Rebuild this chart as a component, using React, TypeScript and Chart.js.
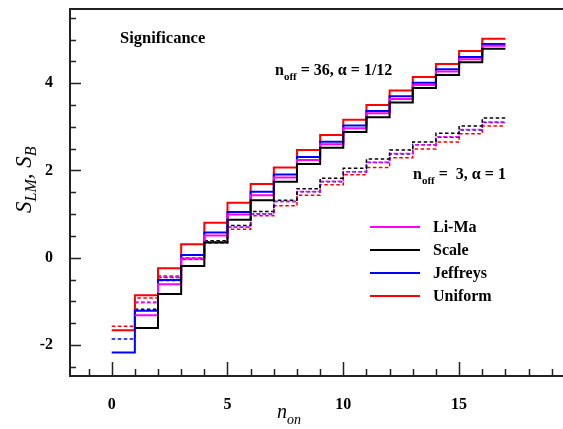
import React, { useEffect, useRef } from 'react';
import { Chart, registerables } from 'chart.js';

Chart.register(...registerables);

// n_on values (segment starts; last entry closes final step)
const nOn = [0, 1, 2, 3, 4, 5, 6, 7, 8, 9, 10, 11, 12, 13, 14, 15, 16, 17];

// n_off = 36, alpha = 1/12 (solid lines)
const liMa36 = [null, -1.32, -0.61, -0.02, 0.51, 0.99, 1.43, 1.84, 2.24, 2.6, 2.97, 3.31, 3.64, 3.96, 4.27, 4.55, 4.86];
const scale36 = [null, -1.61, -0.83, -0.19, 0.35, 0.87, 1.32, 1.74, 2.15, 2.52, 2.88, 3.22, 3.56, 3.89, 4.19, 4.48, 4.79];
const jeffreys36 = [-2.17, -1.215, -0.51, 0.06, 0.58, 1.05, 1.51, 1.91, 2.31, 2.66, 3.03, 3.36, 3.7, 4.01, 4.32, 4.6, 4.9];
const uniform36 = [-1.66, -0.86, -0.24, 0.31, 0.8, 1.26, 1.69, 2.07, 2.47, 2.81, 3.16, 3.5, 3.83, 4.14, 4.44, 4.74, 5.02];

// n_off = 3, alpha = 1 (dashed lines)
const liMa3 = [null, -1.03, -0.44, -0.02, 0.36, 0.7, 1.01, 1.29, 1.52, 1.75, 1.97, 2.19, 2.39, 2.59, 2.77, 2.94, 3.11];
const scale3 = [null, -1.18, -0.52, -0.01, 0.39, 0.74, 1.06, 1.32, 1.58, 1.82, 2.05, 2.26, 2.47, 2.65, 2.85, 3.02, 3.2];
const jeffreys3 = [-1.86, -1.02, -0.45, -0.03, 0.36, 0.7, 1.0, 1.29, 1.51, 1.74, 1.97, 2.18, 2.38, 2.59, 2.76, 2.93, 3.1];
const uniform3 = [-1.57, -0.92, -0.42, -0.04, 0.34, 0.65, 0.96, 1.19, 1.43, 1.67, 1.9, 2.07, 2.29, 2.49, 2.65, 2.84, 3.02];

const xTickValues = [0, 5, 10, 15];
const yTickValues = [-2, 0, 2, 4];
const seriesNames = ['Li-Ma', 'Scale', 'Jeffreys', 'Uniform'];

const COLORS: Record<string, string> = {
  'Li-Ma': '#ff00ff',
  Scale: '#000000',
  Jeffreys: '#0000ff',
  Uniform: '#ff0000',
};

const SERIF = '"Liberation Serif", "Times New Roman", serif';

function steps(vals: (number | null)[]) {
  const pts = vals.map((v, i) => ({ x: nOn[i], y: v }));
  pts.push({ x: nOn[vals.length], y: vals[vals.length - 1] });
  return pts;
}

function drawParts(ctx: CanvasRenderingContext2D, x: number, y: number, parts: [string, string, number][]) {
  let cx = x;
  for (const [txt, font, dy] of parts) {
    ctx.font = font;
    ctx.fillText(txt, cx, y + dy);
    cx += ctx.measureText(txt).width;
  }
}

const decorPlugin = {
  id: 'decor',
  afterDraw(chart: any) {
    const ctx: CanvasRenderingContext2D = chart.ctx;
    const { left, top, bottom } = chart.chartArea;
    const xs = chart.scales.x;
    const ys = chart.scales.y;
    const W = chart.width;
    ctx.save();
    // frame
    ctx.strokeStyle = '#222';
    ctx.lineWidth = 2;
    ctx.beginPath();
    ctx.moveTo(W, top);
    ctx.lineTo(left, top);
    ctx.lineTo(left, bottom);
    ctx.lineTo(W, bottom);
    ctx.stroke();
    // ticks
    ctx.lineWidth = 1.5;
    ctx.beginPath();
    for (let v = Math.ceil(xs.min); v <= xs.max; v++) {
      const px = Math.round(xs.getPixelForValue(v)) + 0.5;
      const len = v % 5 === 0 ? 14 : 7;
      ctx.moveTo(px, bottom);
      ctx.lineTo(px, bottom - len);
    }
    for (let k = Math.ceil(ys.min * 2); k <= Math.floor(ys.max * 2); k++) {
      const v = k / 2;
      const py = Math.round(ys.getPixelForValue(v)) + 0.5;
      const len = v % 2 === 0 ? 11 : 6;
      ctx.moveTo(left, py);
      ctx.lineTo(left + len, py);
    }
    ctx.stroke();

    ctx.fillStyle = '#000';
    ctx.textBaseline = 'alphabetic';
    ctx.textAlign = 'left';
    // annotations
    drawParts(ctx, 120, 43, [['Significance', `bold 16.5px ${SERIF}`, 0]]);
    drawParts(ctx, 275, 75, [
      ['n', `bold 16px ${SERIF}`, 0],
      ['off', `bold 11px ${SERIF}`, 5],
      [' = 36, \u03b1 = 1/12', `bold 16px ${SERIF}`, 0],
    ]);
    drawParts(ctx, 413, 179, [
      ['n', `bold 16px ${SERIF}`, 0],
      ['off', `bold 11px ${SERIF}`, 5],
      [' =  3, \u03b1 = 1', `bold 16px ${SERIF}`, 0],
    ]);

    // legend
    const legendY = [227, 250, 273, 296];
    seriesNames.forEach((name, i) => {
      ctx.strokeStyle = COLORS[name];
      ctx.lineWidth = 2;
      ctx.beginPath();
      ctx.moveTo(370, legendY[i]);
      ctx.lineTo(420, legendY[i]);
      ctx.stroke();
      ctx.fillStyle = '#000';
      ctx.textBaseline = 'middle';
      ctx.font = `bold 16px ${SERIF}`;
      ctx.fillText(name, 433, legendY[i] + 1);
    });

    // axis titles
    ctx.textBaseline = 'alphabetic';
    drawParts(ctx, 277, 418, [
      ['n', `italic 20px ${SERIF}`, 0],
      ['on', `italic 14px ${SERIF}`, 6],
    ]);
    ctx.save();
    ctx.translate(31, 213);
    ctx.rotate(-Math.PI / 2);
    drawParts(ctx, 0, 0, [
      ['S', `italic 23px ${SERIF}`, 0],
      ['LM', `italic 16px ${SERIF}`, 5],
      [', S', `italic 23px ${SERIF}`, 0],
      ['B', `italic 16px ${SERIF}`, 5],
    ]);
    ctx.restore();
    ctx.restore();
  },
};

export default function App() {
  const ref = useRef<HTMLCanvasElement | null>(null);
  useEffect(() => {
    if (!ref.current) return;
    const mk = (vals: (number | null)[], name: string, dashed: boolean) => ({
      label: name + (dashed ? ' (n_off=3)' : ' (n_off=36)'),
      data: steps(vals),
      borderColor: COLORS[name],
      borderWidth: dashed ? 1.5 : 2,
      borderDash: dashed ? [3.5, 2.5] : [],
      stepped: 'before' as const,
      pointRadius: 0,
      fill: false,
    });
    const chart = new Chart(ref.current, {
      type: 'line',
      data: {
        datasets: [
          mk(scale36, 'Scale', false),
          mk(liMa36, 'Li-Ma', false),
          mk(jeffreys36, 'Jeffreys', false),
          mk(uniform36, 'Uniform', false),
          mk(scale3, 'Scale', true),
          mk(liMa3, 'Li-Ma', true),
          mk(jeffreys3, 'Jeffreys', true),
          mk(uniform3, 'Uniform', true),
        ] as any,
      },
      options: {
        responsive: false,
        animation: false,
        devicePixelRatio: 1,
        layout: { padding: { top: 9, right: 2, left: 0, bottom: 0 } },
        plugins: { legend: { display: false }, tooltip: { enabled: false } },
        scales: {
          x: {
            type: 'linear',
            min: -1.8,
            max: 19.4,
            border: { display: false },
            grid: { display: false, drawTicks: false },
            afterBuildTicks: (s: any) => {
              s.ticks = xTickValues.map((v) => ({ value: v }));
            },
            afterFit: (s: any) => {
              s.height = 53;
              s.paddingLeft = 0;
              s.paddingRight = 0;
            },
            ticks: {
              padding: 19,
              color: '#000',
              maxRotation: 0,
              autoSkip: false,
              font: { family: SERIF, size: 16, weight: 'bold' },
              callback: (v: any) => String(v),
            },
          },
          y: {
            type: 'linear',
            min: -2.71,
            max: 5.7,
            border: { display: false },
            grid: { display: false, drawTicks: false },
            afterBuildTicks: (s: any) => {
              s.ticks = yTickValues.map((v) => ({ value: v }));
            },
            afterFit: (s: any) => {
              s.width = 70;
              s.paddingTop = 0;
              s.paddingBottom = 0;
            },
            ticks: {
              padding: 17,
              color: '#000',
              autoSkip: false,
              font: { family: SERIF, size: 16, weight: 'bold' },
              callback: (v: any) => String(v),
            },
          },
        },
      },
      plugins: [decorPlugin],
    } as any);
    return () => chart.destroy();
  }, []);
  return (
    <div style={{ position: 'fixed', left: 0, top: 0, width: 563, height: 429, background: '#fff' }}>
      <canvas ref={ref} width={563} height={429} />
    </div>
  );
}
